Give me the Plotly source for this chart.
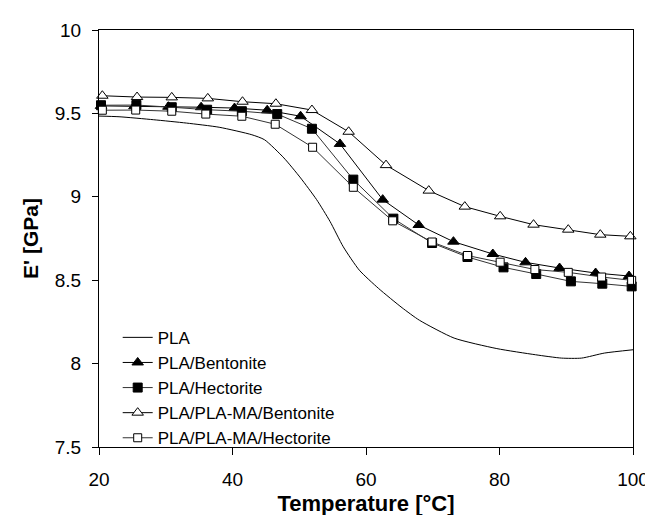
import plotly.graph_objects as go

# ---- data ----
pla_x = [20, 23, 28.2, 33.1, 38.0, 42.9, 44.8, 47.7, 50.2, 52.6, 54.6, 56.6, 59.0, 61.9,
         65.4, 68.0, 73.2, 79.6, 85.4, 89.3, 92.3, 95.7, 100]
pla_y = [9.484, 9.48, 9.462, 9.442, 9.417, 9.372, 9.342, 9.233, 9.113, 8.983, 8.853, 8.70,
         8.56, 8.45, 8.335, 8.26, 8.153, 8.09, 8.053, 8.033, 8.033, 8.063, 8.083]

bent_x = [20.3, 25.3, 30.4, 35.3, 40.3, 45.2, 50.2, 56.1, 62.5, 67.9, 73.1, 79.0, 83.9, 89.0, 94.4, 99.4]
bent_y = [9.545, 9.543, 9.54, 9.537, 9.532, 9.519, 9.483, 9.317, 8.983, 8.831, 8.731, 8.657,
          8.607, 8.573, 8.543, 8.525]

hect_x = [20.3, 25.6, 30.9, 36.2, 41.4, 46.7, 51.9, 58.1, 64.1, 69.9, 75.2, 80.6, 85.5, 90.7, 95.4, 99.8]
hect_y = [9.549, 9.55, 9.537, 9.522, 9.513, 9.496, 9.408, 9.103, 8.869, 8.723, 8.639, 8.577,
          8.537, 8.493, 8.479, 8.463]

mabent_x = [20.5, 25.7, 30.9, 36.3, 41.5, 46.5, 51.9, 57.4, 63.0, 69.4, 74.8, 80.1, 85.1, 90.3, 95.1, 99.6]
mabent_y = [9.606, 9.598, 9.596, 9.59, 9.57, 9.558, 9.52, 9.39, 9.19, 9.037, 8.941, 8.883,
            8.833, 8.803, 8.773, 8.763]

mahect_x = [20.5, 25.5, 30.9, 36.0, 41.4, 46.4, 52.0, 58.1, 64.0, 69.9, 75.2, 80.1, 85.3, 90.3, 95.3, 99.8]
mahect_y = [9.519, 9.52, 9.513, 9.496, 9.483, 9.435, 9.297, 9.057, 8.856, 8.729, 8.648, 8.608,
            8.564, 8.547, 8.519, 8.499]

names = ["PLA", "PLA/Bentonite", "PLA/Hectorite", "PLA/PLA-MA/Bentonite", "PLA/PLA-MA/Hectorite"]
x_ticks = [20, 40, 60, 80, 100]
y_ticks = [7.5, 8, 8.5, 9, 9.5, 10]

FONT = "Arial, Liberation Sans, sans-serif"

fig = go.Figure()
fig.add_trace(go.Scatter(x=pla_x, y=pla_y, mode="lines", name=names[0],
                         line=dict(color="black", width=1, shape="spline", smoothing=0.6)))
fig.add_trace(go.Scatter(x=bent_x, y=bent_y, mode="lines+markers", name=names[1],
                         line=dict(color="black", width=1),
                         marker=dict(symbol="triangle-up", size=10, color="black",
                                     line=dict(color="black", width=1)),
                         cliponaxis=False))
fig.add_trace(go.Scatter(x=hect_x, y=hect_y, mode="lines+markers", name=names[2],
                         line=dict(color="#333333", width=1),
                         marker=dict(symbol="square", size=9, color="black",
                                     line=dict(color="black", width=1)),
                         cliponaxis=False))
fig.add_trace(go.Scatter(x=mabent_x, y=mabent_y, mode="lines+markers", name=names[3],
                         line=dict(color="black", width=1),
                         marker=dict(symbol="triangle-up", size=10, color="white",
                                     line=dict(color="black", width=1)),
                         cliponaxis=False))
fig.add_trace(go.Scatter(x=mahect_x, y=mahect_y, mode="lines+markers", name=names[4],
                         line=dict(color="#333333", width=1),
                         marker=dict(symbol="square", size=8, color="white",
                                     line=dict(color="black", width=1)),
                         cliponaxis=False))

fig.update_layout(
    width=653, height=515,
    margin=dict(l=91, r=17, t=22, b=76),
    paper_bgcolor="white", plot_bgcolor="white",
    font=dict(family=FONT, color="black", size=19),
    showlegend=True,
    legend=dict(x=0.035, y=0.305, xanchor="left", yanchor="top",
                bgcolor="rgba(0,0,0,0)", borderwidth=0,
                font=dict(family=FONT, size=17, color="black")),
    xaxis=dict(range=[20, 100], tickvals=x_ticks, ticks="outside", ticklen=7,
               tickcolor="black", showgrid=False, zeroline=False,
               showline=True, linecolor="black", linewidth=1, mirror=True,
               tickfont=dict(size=19), ticklabelstandoff=8,
               title=dict(text="<b>Temperature [°C]</b>", font=dict(size=22), standoff=6)),
    yaxis=dict(range=[7.5, 10], tickvals=y_ticks, ticks="outside", ticklen=6,
               tickcolor="black", showgrid=False, zeroline=False,
               showline=True, linecolor="black", linewidth=1, mirror=True,
               tickfont=dict(size=19), ticklabelstandoff=7,
               title=dict(text="<b>E' [GPa]</b>", font=dict(size=21), standoff=10)),
)

fig.write_html("out.html")
